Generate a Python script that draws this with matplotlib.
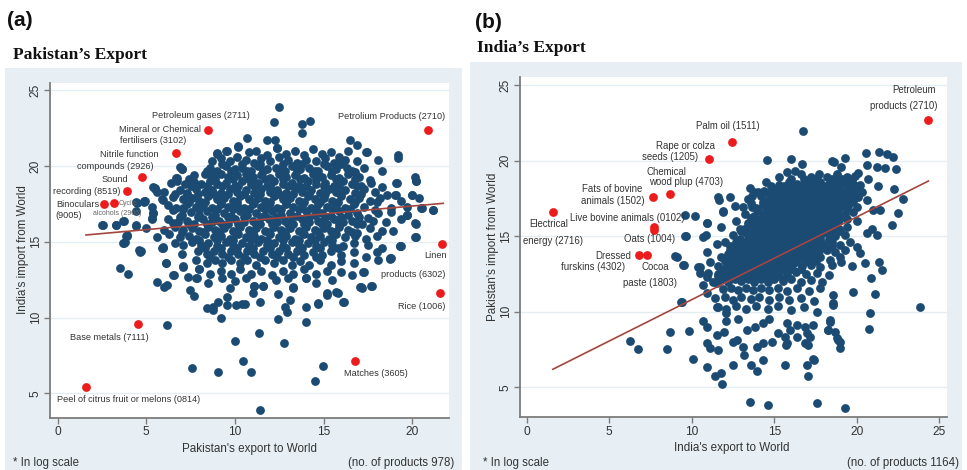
import matplotlib
matplotlib.use("Agg")
import matplotlib.pyplot as plt
from matplotlib.patches import Rectangle

plt.rcParams['font.family'] = ['Liberation Sans', 'DejaVu Sans']

# ---------------- DATA: panel (a) Pakistan's export ----------------
pak_core = [
    (9.0,20.8),(9.5,21.0),(10.2,21.3),(10.8,20.9),(11.2,21.0),(11.8,20.7),(12.4,21.2),(12.9,20.8),(13.4,21.0),(13.9,20.7),(14.4,21.1),(14.9,20.8),(15.4,20.9),(15.9,20.6),(16.4,21.0),
    (8.7,20.3),(9.2,20.5),(9.7,20.3),(10.1,20.6),(10.6,20.4),(11.1,20.2),(11.5,20.5),(12.0,20.3),(12.5,20.6),(13.0,20.4),(13.5,20.2),(14.0,20.4),(14.6,20.3),(15.1,20.5),(15.6,20.2),(16.2,20.4),(16.9,20.3),(17.4,20.9),(18.1,20.4),(19.2,20.7),
    (7.0,19.8),(8.6,19.9),(9.0,19.7),(9.5,20.0),(10.0,19.8),(10.4,19.9),(10.9,19.7),(11.3,20.0),(11.8,19.8),(12.3,19.9),(12.8,19.7),(13.2,20.0),(13.7,19.8),(14.2,19.9),(14.7,19.7),(15.2,20.0),(15.7,19.8),(16.3,19.9),(16.8,19.6),(17.3,19.9),(18.3,19.7),
    (6.7,19.2),(7.7,19.4),(8.3,19.5),(8.7,19.3),(9.2,19.5),(9.6,19.3),(10.1,19.4),(10.6,19.5),(11.0,19.3),(11.5,19.4),(12.0,19.2),(12.5,19.5),(12.9,19.3),(13.4,19.4),(13.9,19.2),(14.4,19.5),(14.9,19.3),(15.4,19.4),(15.9,19.2),(16.4,19.5),(17.0,19.3),(17.6,19.1),(19.1,18.9),
    (6.4,18.9),(7.2,18.8),(7.7,18.95),(8.1,18.8),(8.6,19.0),(9.0,18.8),(9.5,18.9),(10.0,18.7),(10.4,19.0),(10.9,18.8),(11.3,18.9),(11.8,18.7),(12.2,19.0),(12.7,18.8),(13.2,18.9),(13.6,18.7),(14.1,19.0),(14.6,18.8),(15.1,18.9),(15.6,18.7),(16.1,19.0),(16.6,18.8),(17.1,18.7),(17.7,18.9),(18.3,18.6),(20.2,19.0),
    (5.5,18.5),(6.0,18.3),(6.9,18.4),(7.3,18.2),(7.8,18.5),(8.3,18.3),(8.7,18.4),(9.2,18.2),(9.7,18.5),(10.1,18.3),(10.6,18.4),(11.1,18.2),(11.5,18.5),(12.0,18.3),(12.4,18.4),(12.9,18.2),(13.4,18.5),(13.8,18.3),(14.3,18.4),(14.8,18.2),(15.3,18.5),(15.7,18.3),(16.2,18.4),(16.8,18.2),(17.3,18.5),(17.9,18.3),(18.6,18.1),(19.1,18.1),(20.0,18.1),
    (5.9,17.8),(6.5,17.95),(7.1,17.8),(7.6,17.9),(8.0,17.7),(8.5,18.0),(9.0,17.8),(9.4,17.9),(9.9,17.7),(10.3,18.0),(10.8,17.8),(11.3,17.9),(11.7,17.7),(12.2,18.0),(12.7,17.8),(13.1,17.9),(13.6,17.7),(14.1,18.0),(14.5,17.8),(15.0,17.9),(15.5,17.7),(16.0,18.0),(16.5,17.8),(17.0,17.9),(17.6,17.7),(18.2,17.9),(19.4,17.7),(20.4,17.9),
    (4.9,17.7),(5.3,17.3),(6.2,17.4),(6.7,17.2),(7.3,17.5),(7.8,17.3),(8.2,17.4),(8.7,17.2),(9.2,17.5),(9.6,17.3),(10.1,17.4),(10.5,17.2),(11.0,17.5),(11.5,17.3),(11.9,17.4),(12.4,17.2),(12.9,17.5),(13.3,17.3),(13.8,17.4),(14.3,17.2),(14.7,17.5),(15.2,17.3),(15.7,17.4),(16.2,17.2),(16.7,17.5),(17.3,17.3),(17.9,17.1),(18.8,17.2),(19.7,17.3),(20.5,17.2),(21.2,17.1),
    (4.4,17.0),(5.4,16.9),(6.5,17.1),(7.0,16.8),(7.5,16.95),(8.0,16.8),(8.4,17.0),(8.9,16.8),(9.4,16.9),(9.8,16.7),(10.3,17.0),(10.7,16.8),(11.2,16.9),(11.7,16.7),(12.1,17.0),(12.6,16.8),(13.1,16.9),(13.5,16.7),(14.0,17.0),(14.5,16.8),(14.9,16.9),(15.4,16.7),(15.9,17.0),(16.4,16.8),(16.9,16.9),(17.5,16.6),(18.1,16.9),(18.8,16.95),(19.7,16.8),
    (3.7,16.4),(4.4,16.1),(5.3,16.5),(6.2,16.5),(6.8,16.3),(7.3,16.4),(7.7,16.2),(8.2,16.5),(8.7,16.3),(9.1,16.4),(9.6,16.2),(10.0,16.5),(10.5,16.3),(11.0,16.4),(11.4,16.2),(11.9,16.5),(12.4,16.3),(12.8,16.4),(13.3,16.2),(13.8,16.5),(14.2,16.3),(14.7,16.4),(15.2,16.2),(15.6,16.5),(16.1,16.3),(16.6,16.4),(17.2,16.2),(17.8,16.4),(18.5,16.3),(19.4,16.5),(20.2,16.2),
    (2.5,16.1),(3.3,16.1),(5.0,15.9),(6.0,15.8),(6.6,16.0),(7.1,15.8),(7.6,15.9),(8.0,15.7),(8.5,16.0),(8.9,15.8),(9.4,15.9),(9.9,15.7),(10.3,16.0),(10.8,15.8),(11.2,15.9),(11.7,15.7),(12.2,16.0),(12.6,15.8),(13.1,15.9),(13.6,15.7),(14.0,16.0),(14.5,15.8),(15.0,15.9),(15.4,15.7),(15.9,16.0),(16.4,15.8),(16.9,15.6),(17.6,15.9),(18.3,15.7),(18.9,15.7),
    (3.9,15.4),(5.6,15.3),(6.3,15.5),(6.9,15.3),(7.4,15.4),(7.8,15.2),(8.3,15.5),(8.8,15.3),(9.2,15.4),(9.7,15.2),(10.2,15.5),(10.6,15.3),(11.1,15.4),(11.5,15.2),(12.0,15.5),(12.5,15.3),(12.9,15.4),(13.4,15.2),(13.9,15.5),(14.3,15.3),(14.8,15.4),(15.3,15.2),(15.7,15.5),(16.2,15.3),(16.8,15.4),(17.4,15.2),(18.0,15.4),(20.2,15.3),
    (3.7,14.9),(4.7,14.4),(5.9,14.6),(6.6,14.9),(7.1,14.8),(7.6,15.0),(8.1,14.8),(8.5,14.9),(9.0,14.7),(9.5,15.0),(9.9,14.8),(10.4,14.9),(10.8,14.7),(11.3,15.0),(11.8,14.8),(12.2,14.9),(12.7,14.7),(13.2,15.0),(13.6,14.8),(14.1,14.9),(14.6,14.7),(15.0,15.0),(15.5,14.8),(16.1,14.7),(16.7,14.9),(17.5,14.8),(18.3,14.6),(19.3,14.7),
    (7.0,14.2),(7.9,14.4),(8.4,14.2),(8.8,14.4),(9.3,14.2),(9.8,14.4),(10.2,14.2),(10.7,14.4),(11.1,14.2),(11.6,14.4),(12.1,14.2),(12.5,14.4),(13.0,14.2),(13.5,14.4),(13.9,14.1),(14.4,14.3),(14.9,14.1),(15.4,14.4),(16.0,14.1),(16.7,14.3),(17.4,14.0),(18.0,14.3),(18.8,13.9),
    (6.1,13.6),(7.1,13.4),(7.8,13.8),(8.4,13.6),(8.9,13.8),(9.3,13.6),(9.8,13.8),(10.3,13.6),(10.7,13.8),(11.2,13.5),(11.7,13.8),(12.2,13.6),(12.7,13.8),(13.2,13.5),(13.7,13.7),(14.2,13.5),(14.8,13.8),(15.4,13.5),(16.0,13.7),(16.7,13.6),(17.3,13.0),(18.1,13.8),
    (8.0,13.2),(8.6,12.9),(9.2,13.1),(9.8,12.9),(10.3,13.2),(10.9,12.9),(11.5,13.1),(12.1,12.8),(12.7,13.1),(13.3,12.9),(13.9,13.2),(14.6,12.9),(15.2,13.1),(16.0,13.0),(16.6,12.8),
    (7.8,12.6),(8.5,12.3),(9.3,12.6),(10.0,12.4),(10.6,12.6),(11.1,12.1),(11.6,12.1),(12.3,12.5),(13.0,12.6),(13.3,12.0),(14.0,12.6),(14.6,12.3),(15.5,12.5),(17.1,12.0),(17.7,12.1),
]
# extra overlapping products in the densest part of the cloud: (y, [x ...]) per band
pak_dense_rows = [
    (20.15, [9.3, 10.4, 11.4, 12.7, 13.8, 15.0, 16.0]),
    (19.65, [8.4, 9.8, 10.7, 11.6, 12.6, 13.5, 14.5, 15.5, 16.6]),
    (19.15, [7.4, 8.9, 9.9, 10.8, 11.7, 12.7, 13.7, 14.6, 15.7, 16.8]),
    (18.65, [7.5, 8.4, 9.3, 10.2, 11.1, 12.0, 13.0, 14.0, 15.0, 15.9, 16.9]),
    (18.15, [6.6, 7.9, 8.8, 9.6, 10.5, 11.4, 12.5, 13.3, 14.2, 15.1, 16.0, 17.1]),
    (17.65, [7.4, 8.3, 9.2, 10.1, 11.1, 12.0, 12.9, 13.9, 14.8, 15.8, 16.8, 18.0]),
    (17.15, [7.1, 8.0, 9.0, 9.9, 10.8, 11.7, 12.6, 13.6, 14.6, 15.5, 16.5]),
    (16.65, [6.9, 7.9, 8.7, 9.6, 10.5, 11.5, 12.3, 13.2, 14.2, 15.1, 16.0, 17.0]),
    (16.15, [7.4, 8.4, 9.3, 10.2, 11.2, 12.1, 13.0, 13.9, 14.9, 15.9, 16.9]),
    (15.65, [7.0, 8.2, 9.1, 10.0, 11.0, 11.9, 12.8, 13.8, 14.7, 15.6, 16.6]),
    (15.15, [8.0, 9.0, 9.9, 10.9, 11.8, 12.7, 13.6, 14.5, 15.5]),
    (14.6, [8.3, 9.2, 10.1, 11.0, 12.0, 12.9, 13.8, 14.8, 15.8]),
    (14.0, [8.6, 9.6, 10.5, 11.4, 12.4, 13.3, 14.6]),
]
pak_outer = [
    (12.5,23.9),(12.2,22.9),(13.77,22.8),(14.24,23.0),(13.77,22.2),(10.67,21.83),(11.79,21.72),(12.26,21.72),(12.36,21.22),(16.5,21.72),(16.87,21.39),(17.44,20.95),(19.2,20.5),(20.16,19.3),(20.2,19.0),(19.13,18.86),(19.05,18.09),(19.98,18.09),(20.54,17.21),(21.2,17.1),(19.69,16.77),(20.16,16.22),(20.16,15.34),(19.36,14.72),(18.75,13.91),(17.06,12.04),(15.83,11.64),(15.18,11.6),(14.7,10.94),(16.12,11.05),(13.1,11.16),
    (6.99,19.8),(6.72,19.01),(5.49,18.57),(5.59,18.3),(4.93,17.69),(4.49,17.54),(2.54,16.11),(3.29,16.11),(3.74,16.39),(3.86,15.38),(3.74,14.94),(3.51,13.25),(3.98,12.87),(4.42,16.04),(4.65,14.35),(5.4,18.6),(5.96,17.76),(4.87,17.65),(4.42,17.65),(5.3,16.55),(5.36,16.88),(5.96,14.68),(6.52,12.81),(5.62,12.33),(6.15,12.15),(6.9,19.96),(6.72,19.19),(6.11,13.58),(6.02,12.04),(6.56,12.81),(7.09,13.36),(7.37,12.7),(7.47,11.82),(7.71,11.44),(7.84,12.59),(7.99,13.2),
    (6.15,9.51),(8.41,10.61),(8.75,10.72),(8.76,10.5),(9.06,11.05),(9.2,9.95),(9.54,11.38),(9.54,10.83),(9.72,11.97),(10.06,10.83),(10.38,10.87),(10.56,10.9),(10.0,8.47),(11.38,8.96),(11.42,11.05),(11.0,11.6),(11.08,12.1),(11.6,12.1),(12.45,11.53),(12.83,10.72),(12.96,10.39),(12.45,9.9),(12.79,8.3),(13.26,11.97),(14.01,12.63),(14.01,10.72),(14.01,9.73),(14.71,10.87),(15.18,11.49),(15.71,11.67),(16.16,11.05),(17.15,11.97),(17.72,12.1),(17.25,13.03),(18.75,13.86),(19.3,14.7),
    (10.47,7.13),(10.91,6.39),(9.03,6.43),(7.56,6.65),(11.42,3.9),(14.52,5.81),(14.99,6.82),(8.97,20.84),(9.54,21.0),(10.19,21.28),(8.72,19.4),(7.28,18.09),(7.09,17.21),(6.52,16.22),(4.61,14.46),(3.89,15.45),(3.8,15.0),(5.96,14.57),
]
pak_red_x = [8.5, 6.68, 4.77, 3.89, 2.63, 3.18, 20.92, 21.7, 21.56, 4.51, 16.78, 1.6]
pak_red_y = [22.38, 20.88, 19.26, 18.37, 17.47, 17.54, 22.38, 14.85, 11.64, 9.6, 7.13, 5.44]
pak_labels = [
    ("Petroleum gases (2711)", 5.30, 23.32), ("Mineral or Chemical", 3.46, 22.43),
    ("fertilisers (3102)", 3.52, 21.67), ("Nitrile function", 2.39, 20.73),
    ("compounds (2926)", 1.07, 19.96), ("Sound", 2.48, 19.08),
    ("recording (8519)", -0.25, 18.31), ("Binoculars", -0.06, 17.48),
    ("(9005)", -0.15, 16.72), ("Petrolium Products (2710)", 15.84, 23.26),
    ("Linen", 20.67, 14.08), ("products (6302)", 18.24, 12.87),
    ("Rice (1006)", 19.22, 10.76), ("Base metals (7111)", 0.69, 8.67),
    ("Matches (3605)", 16.16, 6.32), ("Peel of citrus fruit or melons (0814)", -0.06, 4.56),
]
pak_small_labels = [("Cyclic", 3.42, 17.54), ("alcohols (2906)", 2.01, 16.88)]
pak_fit_x = [1.6, 21.76]
pak_fit_y = [15.45, 17.54]

# ---------------- DATA: panel (b) India's export ----------------
ind_core = [
    (15.3,18.9),(16.6,19.1),(17.2,18.9),(17.7,19.1),(18.2,18.9),(18.8,19.1),(19.4,18.9),(19.9,19.0),
    (14.5,18.6),(15.3,18.4),(15.9,18.6),(16.4,18.45),(16.9,18.65),(17.3,18.5),(17.8,18.6),(18.3,18.45),(18.7,18.65),(19.2,18.5),(19.7,18.6),(20.2,18.4),(20.7,18.8),
    (13.5,18.2),(14.4,18.0),(15.0,18.15),(15.4,18.0),(15.8,18.2),(16.2,18.05),(16.6,18.2),(17.0,18.0),(17.4,18.15),(17.8,18.0),(18.2,18.2),(18.6,18.05),(19.0,18.2),(19.4,18.0),(19.9,18.1),(20.3,17.95),
    (12.3,17.6),(13.4,17.5),(14.2,17.65),(14.8,17.5),(15.2,17.7),(15.6,17.55),(16.0,17.7),(16.4,17.5),(16.8,17.65),(17.2,17.5),(17.6,17.7),(18.0,17.55),(18.4,17.7),(18.8,17.5),(19.2,17.65),(19.6,17.5),(20.1,17.6),(20.6,17.4),
    (12.6,17.0),(13.6,17.2),(14.3,17.05),(14.7,17.2),(15.1,17.05),(15.5,17.2),(15.9,17.0),(16.3,17.15),(16.7,17.0),(17.1,17.2),(17.5,17.05),(17.9,17.2),(18.3,17.0),(18.7,17.15),(19.1,17.0),(19.5,17.15),(20.0,16.95),
    (11.9,16.6),(13.2,16.5),(14.0,16.65),(14.4,16.5),(14.8,16.7),(15.2,16.55),(15.6,16.7),(16.0,16.5),(16.4,16.65),(16.8,16.5),(17.2,16.7),(17.6,16.55),(18.0,16.7),(18.4,16.5),(18.8,16.65),(19.3,16.5),(19.8,16.6),
    (12.7,16.0),(13.6,16.2),(14.1,16.05),(14.5,16.2),(14.9,16.0),(15.3,16.15),(15.7,16.0),(16.1,16.2),(16.5,16.05),(16.9,16.2),(17.3,16.0),(17.7,16.15),(18.1,16.0),(18.5,16.2),(18.9,16.05),(19.4,16.15),(20.0,16.0),
    (11.8,15.6),(12.9,15.5),(13.6,15.65),(14.0,15.5),(14.4,15.7),(14.8,15.55),(15.2,15.7),(15.6,15.5),(16.0,15.65),(16.4,15.5),(16.8,15.7),(17.2,15.55),(17.6,15.7),(18.0,15.5),(18.4,15.65),(18.9,15.5),(19.4,15.6),
    (12.5,15.1),(13.3,15.2),(13.8,15.05),(14.2,15.2),(14.6,15.0),(15.0,15.15),(15.4,15.0),(15.8,15.2),(16.2,15.05),(16.6,15.2),(17.0,15.0),(17.4,15.15),(17.8,15.0),(18.2,15.2),(18.7,15.05),(19.3,15.1),
    (11.5,14.5),(12.7,14.65),(13.2,14.5),(13.6,14.7),(14.0,14.55),(14.4,14.7),(14.8,14.5),(15.2,14.65),(15.6,14.5),(16.0,14.7),(16.4,14.55),(16.8,14.7),(17.2,14.5),(17.6,14.65),(18.0,14.5),(18.5,14.6),(19.0,14.45),(19.6,14.6),
    (12.3,14.1),(12.9,14.0),(13.3,14.2),(13.7,14.05),(14.1,14.2),(14.5,14.0),(14.9,14.15),(15.3,14.0),(15.7,14.2),(16.1,14.05),(16.5,14.2),(16.9,14.0),(17.3,14.15),(17.7,14.0),(18.2,14.1),(18.7,13.95),(19.3,14.1),
    (11.8,13.6),(12.5,13.5),(12.9,13.65),(13.3,13.5),(13.7,13.7),(14.1,13.55),(14.5,13.7),(14.9,13.5),(15.3,13.65),(15.7,13.5),(16.1,13.7),(16.5,13.55),(16.9,13.7),(17.3,13.5),(17.8,13.6),(18.4,13.45),(19.0,13.6),
    (11.6,13.0),(12.2,13.15),(12.6,13.0),(13.0,13.2),(13.4,13.05),(13.8,13.2),(14.2,13.0),(14.6,13.15),(15.0,13.0),(15.4,13.2),(15.8,13.05),(16.2,13.2),(16.7,13.0),(17.2,13.1),(17.8,12.95),(18.5,13.1),
    (11.0,12.6),(11.6,12.5),(12.1,12.65),(12.5,12.5),(12.9,12.7),(13.3,12.55),(13.7,12.7),(14.1,12.5),(14.5,12.65),(14.9,12.5),(15.3,12.7),(15.8,12.55),(16.3,12.65),(16.9,12.5),(17.6,12.6),(18.3,12.45),
    (11.3,12.0),(11.8,12.15),(12.2,12.0),(12.6,12.2),(13.0,12.05),(13.4,12.2),(13.8,12.0),(14.2,12.15),(14.6,12.0),(15.0,12.2),(15.5,12.05),(16.0,12.15),(16.6,12.0),(17.2,12.1),(17.9,11.95),
    (11.9,11.5),(12.4,11.6),(12.8,11.45),(13.3,11.6),(13.7,11.45),(14.2,11.6),(14.7,11.45),(15.2,11.6),(15.8,11.4),(16.4,11.6),(17.1,11.4),(17.8,11.55),
    (11.4,10.9),(12.0,11.0),(12.5,10.8),(13.0,11.0),(13.6,10.85),(14.1,11.0),(14.7,10.8),(15.3,11.0),(15.9,10.75),(16.6,10.9),(17.4,10.7),
    (11.5,10.3),(12.1,10.2),(12.7,10.4),(13.3,10.2),(13.9,10.4),(14.6,10.2),(15.2,10.4),(16.0,10.1),(16.8,10.3),(17.6,10.0),
]
# extra overlapping products in the densest part of the cloud: (y, [x ...]) per band
ind_dense_rows = [
    (18.8, [16.0, 16.8, 17.5, 18.5, 19.1, 19.7]),
    (18.3, [14.8, 15.6, 16.0, 16.6, 17.1, 17.6, 18.0, 18.5, 18.9, 19.5, 20.0]),
    (17.85, [14.6, 15.0, 15.4, 15.8, 16.2, 16.6, 17.0, 17.4, 17.8, 18.2, 18.6, 19.0, 19.4, 19.8]),
    (17.35, [14.5, 14.9, 15.3, 15.7, 16.1, 16.5, 16.9, 17.3, 17.7, 18.1, 18.5, 18.9, 19.3, 19.8]),
    (16.85, [13.9, 14.5, 14.9, 15.3, 15.7, 16.1, 16.5, 16.9, 17.3, 17.7, 18.1, 18.5, 18.9, 19.4]),
    (16.35, [13.8, 14.3, 14.7, 15.1, 15.5, 15.9, 16.3, 16.7, 17.1, 17.5, 17.9, 18.3, 18.7, 19.1]),
    (15.85, [13.4, 13.8, 14.2, 14.6, 15.0, 15.4, 15.8, 16.2, 16.6, 17.0, 17.4, 17.8, 18.2, 18.7]),
    (15.35, [13.0, 13.6, 14.0, 14.4, 14.8, 15.2, 15.6, 16.0, 16.4, 16.8, 17.2, 17.6, 18.0, 18.5, 19.0]),
    (14.85, [12.9, 13.4, 13.8, 14.2, 14.6, 15.0, 15.4, 15.8, 16.2, 16.6, 17.0, 17.4, 17.8, 18.3]),
    (14.35, [12.6, 13.1, 13.5, 13.9, 14.3, 14.7, 15.1, 15.5, 15.9, 16.3, 16.7, 17.1, 17.5, 18.0, 18.5]),
    (13.85, [12.2, 12.7, 13.1, 13.5, 13.9, 14.3, 14.7, 15.1, 15.5, 15.9, 16.3, 16.7, 17.1, 17.6]),
    (13.35, [12.0, 12.4, 12.8, 13.2, 13.6, 14.0, 14.4, 14.8, 15.2, 15.6, 16.0, 16.4, 16.9, 17.5]),
    (12.85, [11.9, 12.3, 12.7, 13.1, 13.5, 13.9, 14.3, 14.7, 15.1, 15.6, 16.1, 16.6]),
    (12.35, [11.6, 12.0, 12.4, 12.8, 13.2, 13.6, 14.0, 14.4, 14.8, 15.3, 15.8]),
]
ind_outer = [
    (16.76,21.97),(20.56,20.54),(21.37,20.56),(21.82,20.47),(22.22,20.27),(16.02,20.1),(16.67,19.77),(18.48,20.0),(18.6,19.9),(19.29,20.17),(19.05,19.6),(15.8,19.28),(16.26,19.32),(21.2,19.6),(21.7,19.5),(22.38,19.44),(20.6,19.7),(20.06,19.17),(21.3,18.3),(22.28,18.13),(22.79,17.45),(22.52,16.52),(22.16,15.75),(21.4,16.74),(21.0,16.74),(21.2,15.09),(20.6,15.24),(20.9,15.5),(20.04,14.31),(20.2,13.87),(20.5,13.21),(21.37,13.28),(21.5,12.77),(20.85,12.26),(21.1,11.16),(20.8,9.9),(20.76,8.86),(23.84,10.34),(19.76,11.33),(19.7,13.0),(19.05,13.32),(18.38,9.46),(18.24,8.8),(18.68,8.68),(18.89,8.13),(18.99,7.58),(18.58,11.11),(18.55,10.56),(17.37,6.85),(16.97,6.48),(17.07,5.75),(15.65,6.48),(17.58,3.98),(19.29,3.61),(15.76,7.91),(17.17,8.35),(16.4,9.1),(15.76,9.24),
    (6.26,8.09),(6.73,7.51),(8.52,7.56),(8.68,8.68),(9.84,8.73),(9.35,10.67),(10.06,6.85),(10.91,6.36),(11.41,5.75),(11.86,5.22),(11.76,5.97),(12.52,6.48),(13.17,7.14),(13.57,6.48),(13.98,6.1),(14.3,6.81),(17.41,6.81),(13.53,4.0),(14.64,3.83),(18.28,8.8),(18.79,8.24),(19.0,8.0),(18.38,9.35),(18.58,10.45),(15.65,8.35),(15.72,7.8),(14.85,8.02),(13.98,7.69),(14.3,7.9),(13.13,7.69),(12.73,8.13),(12.5,8.0),(11.62,7.47),(11.11,7.58),(10.9,7.9),(10.7,9.41),(10.95,9.01),(11.52,8.46),(11.96,8.68),(12.08,9.41),(12.1,9.9),(12.83,9.5),(13.33,8.79),(13.84,9.01),(14.34,9.24),(14.7,9.5),(15.25,8.58),(15.96,8.8),(16.36,8.35),(16.87,9.01),(17.0,8.6),(17.37,9.12),(16.87,7.9),(17.05,7.8),
    (14.55,20.05),(13.8,17.96),(14.0,17.96),(13.63,17.67),(15.35,18.28),(11.61,17.58),(11.63,17.37),(11.88,16.7),(10.2,16.34),(13.13,16.96),(13.63,16.96),(14.34,17.29),(10.91,15.86),(10.87,15.09),(9.65,15.02),(13.27,15.53),(12.02,14.64),(12.32,14.36),(9.09,13.65),(9.53,13.1),(10.95,13.98),(10.36,12.99),(10.5,12.55),(10.91,12.33),(12.12,13.43),(9.59,16.41),(10.95,15.86),(9.59,15.02),(10.7,14.97),(8.99,13.7),(9.49,13.1),(10.5,12.95),(11.11,13.32),(10.7,11.77),(10.91,11.23),(11.52,11.89),(11.61,10.34),(9.39,10.67),
]
ind_red_x = [24.34, 12.46, 11.03, 8.68, 7.67, 7.71, 7.71, 6.82, 7.27, 1.61]
ind_red_y = [22.7, 21.22, 20.1, 17.78, 17.62, 15.64, 15.42, 13.76, 13.76, 16.63]
ind_labels = [
    ("Petroleum", 22.12, 24.69), ("products (2710)", 20.81, 23.63),
    ("Palm oil (1511)", 10.26, 22.28), ("Rape or colza", 7.84, 20.98),
    ("seeds (1205)", 6.97, 20.27), ("Chemical", 7.27, 19.28),
    ("wood plup (4703)", 7.41, 18.62), ("Fats of bovine", 3.33, 18.11),
    ("animals (1502)", 3.29, 17.34), ("Live bovine animals (0102)", 2.62, 16.23),
    ("Electrical", 0.16, 15.79), ("energy (2716)", -0.21, 14.69),
    ("Oats (1004)", 5.9, 14.8), ("Dressed", 4.14, 13.7),
    ("furskins (4302)", 2.06, 12.99), ("Cocoa", 6.93, 12.99),
    ("paste (1803)", 5.85, 11.93),
]
ind_fit_x = [1.58, 24.34]
ind_fit_y = [6.19, 18.66]

yticks = [5, 10, 15, 20, 25]
pak_xticks = [0, 5, 10, 15, 20]
ind_xticks = [0, 5, 10, 15, 20, 25]

# ---------------- STYLE ----------------
W, H = 967, 470
BG = '#e7eff4'
BLUE = '#1b4a72'
RED = '#ec1c1c'
FIT = '#a4463e'
TXT = '#333333'

fig = plt.figure(figsize=(W / 100, H / 100), dpi=100)
fig.patch.set_facecolor('white')
fig.add_artist(Rectangle((5 / W, 0), (462 - 5) / W, 1 - 68 / H, transform=fig.transFigure,
                         facecolor=BG, edgecolor='none', zorder=0))
fig.add_artist(Rectangle((470 / W, 0), (962 - 470) / W, 1 - 62 / H, transform=fig.transFigure,
                         facecolor=BG, edgecolor='none', zorder=0))


def ftext(px, py, s, **kw):
    fig.text(px / W, 1 - py / H, s, **kw)


def style(ax, xlim, ylim, xticks):
    ax.set_xlim(xlim)
    ax.set_ylim(ylim)
    ax.set_facecolor('white')
    for s in ['top', 'right']:
        ax.spines[s].set_visible(False)
    for s in ['left', 'bottom']:
        ax.spines[s].set_color('#7c7c7c')
        ax.spines[s].set_linewidth(1.3)
    ax.set_yticks(yticks)
    ax.set_xticks(xticks)
    ax.tick_params(direction='out', length=4, width=1, color='#7c7c7c', labelsize=8.6,
                   labelcolor=TXT, pad=2)
    ax.tick_params(axis='y', labelrotation=90)
    for lab in ax.get_yticklabels():
        lab.set_va('center')
    ax.grid(axis='y', color='#e3eef4', lw=1)
    ax.set_axisbelow(True)


def gather(tuples, rows):
    xs = [p[0] for p in tuples]
    ys = [p[1] for p in tuples]
    for yrow, xrow in rows:
        xs += xrow
        ys += [yrow] * len(xrow)
    return xs, ys


S = 40
# ---- panel (a)
ax_a = fig.add_axes([50 / W, 1 - 418 / H, 399 / W, 335 / H])
style(ax_a, (-0.43, 22.08), (3.37, 25.48), pak_xticks)
ax_x, ax_y = gather(pak_core + pak_outer, pak_dense_rows)
ax_a.scatter(ax_x, ax_y, s=S, color=BLUE, lw=0, zorder=2)
ax_a.plot(pak_fit_x, pak_fit_y, color=FIT, lw=1.2, zorder=3)
ax_a.scatter(pak_red_x, pak_red_y, s=S, color=RED, lw=0, zorder=4)
for t, x, y in pak_labels:
    ax_a.text(x, y, t, fontsize=6.6, color=TXT, ha='left', va='center', zorder=5)
for t, x, y in pak_small_labels:
    ax_a.text(x, y, t, fontsize=5.0, color='#666666', ha='left', va='center', zorder=5)

# ---- panel (b)
ax_b = fig.add_axes([520 / W, 1 - 417.3 / H, 426.7 / W, 340.6 / H])
style(ax_b, (-0.41, 25.45), (3.01, 25.57), ind_xticks)
bx, by = gather(ind_core + ind_outer, ind_dense_rows)
ax_b.scatter(bx, by, s=S, color=BLUE, lw=0, zorder=2)
ax_b.plot(ind_fit_x, ind_fit_y, color=FIT, lw=1.2, zorder=3)
ax_b.scatter(ind_red_x, ind_red_y, s=S, color=RED, lw=0, zorder=4)
for t, x, y in ind_labels:
    ax_b.text(x, y, t, fontsize=6.9, color=TXT, ha='left', va='center', zorder=5)

# ---- titles and notes
ftext(7, 21, "(a)", fontsize=15, fontweight='bold', va='center', ha='left', color='#111111')
ftext(13, 55, "Pakistan\u2019s Export", fontsize=12.6, fontweight='bold', va='center', ha='left',
      family=['Liberation Serif', 'DejaVu Serif'], color='#111111')
ftext(475, 23, "(b)", fontsize=15, fontweight='bold', va='center', ha='left', color='#111111')
ftext(477, 48, "India\u2019s Export", fontsize=12.6, fontweight='bold', va='center', ha='left',
      family=['Liberation Serif', 'DejaVu Serif'], color='#111111')

ftext(249.5, 449, "Pakistan's export to World", fontsize=8.4, ha='center', va='center', color=TXT)
ftext(732, 448.3, "India's export to World", fontsize=8.4, ha='center', va='center', color=TXT)
ftext(23, 250, "India's import from World", fontsize=8.4, ha='center', va='center',
      rotation=90, color=TXT)
ftext(493, 247, "Pakistan's import from World", fontsize=8.4, ha='center', va='center',
      rotation=90, color=TXT)
ftext(13, 462.7, "* In log scale", fontsize=8.3, ha='left', va='center', color=TXT)
ftext(454, 462.7, "(no. of products 978)", fontsize=8.3, ha='right', va='center', color=TXT)
ftext(483, 462.7, "* In log scale", fontsize=8.3, ha='left', va='center', color=TXT)
ftext(959, 462.7, "(no. of products 1164)", fontsize=8.3, ha='right', va='center', color=TXT)

fig.savefig("out.png", dpi=100, facecolor='white')
